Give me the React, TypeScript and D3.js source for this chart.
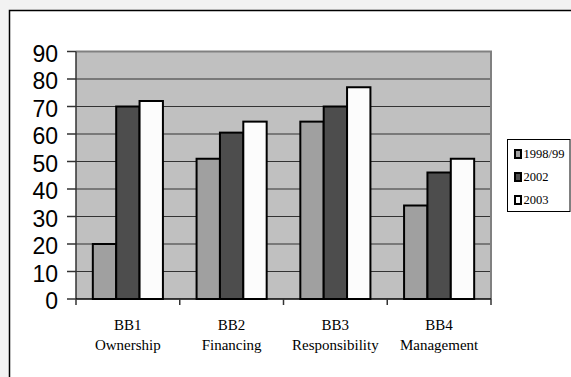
import React from "react";
import * as d3 from "d3";

const categories = ["BB1", "BB2", "BB3", "BB4"];
const subLabels = ["Ownership", "Financing", "Responsibility", "Management"];
const seriesNames = ["1998/99", "2002", "2003"];
const s1998 = [20, 51, 64.5, 34];
const s2002 = [70, 60.5, 70, 46];
const s2003 = [72, 64.5, 77, 51];
const yTicks = [0, 10, 20, 30, 40, 50, 60, 70, 80, 90];
const seriesColors = ["#a0a0a0", "#4d4d4d", "#fcfcfc"];

export default function App() {
  const W = 571, H = 377;
  const left = 76, right = 491, top = 51.5, bottom = 299;
  const series = [s1998, s2002, s2003];

  const x = d3.scaleBand<string>().domain(categories).range([left, right]).padding(0);
  const inner = d3.scaleBand<number>().domain([0, 1, 2]).range([0, x.bandwidth()]).paddingInner(0).paddingOuter(0.72);
  const y = d3.scaleLinear().domain([0, 90]).range([bottom, top]);
  const serif = "'Liberation Serif', 'Times New Roman', serif";

  return (
    <svg width={W} height={H} style={{ position: "absolute", left: 0, top: 0 }}>
      <rect x={0} y={0} width={W} height={H} fill="#f2f2f2" />
      <rect x={9.5} y={10.5} width={W + 20} height={H + 20} fill="#ffffff" stroke="#000" strokeWidth={1.5} />
      <rect x={left} y={top} width={right - left} height={bottom - top} fill="#c0c0c0" />
      {yTicks.filter(t => t > 0 && t < 90).map(t => (
        <line key={t} x1={left} x2={right} y1={y(t)} y2={y(t)} stroke="#333" strokeWidth={1} />
      ))}
      <path d={`M${left},${top} H${right} V${bottom}`} fill="none" stroke="#808080" strokeWidth={2} />
      {series.map((vals, si) =>
        vals.map((v, ci) => (
          <rect
            key={`${si}-${ci}`}
            x={(x(categories[ci]) as number) + (inner(si) as number)}
            y={y(v)}
            width={inner.bandwidth()}
            height={bottom - y(v)}
            fill={seriesColors[si]}
            stroke="#000"
            strokeWidth={2}
          />
        ))
      )}
      <line x1={left} x2={left} y1={top} y2={bottom} stroke="#333" strokeWidth={1.5} />
      {yTicks.map(t => (
        <g key={t}>
          <line x1={left - 9} x2={left} y1={y(t)} y2={y(t)} stroke="#333" strokeWidth={1.5} />
          <text x={58} y={y(t) + 2} textAnchor="end" dominantBaseline="central"
            fontFamily="'Liberation Sans', Arial, sans-serif" fontSize={23} fill="#000">{t}</text>
        </g>
      ))}
      <line x1={left} x2={right} y1={bottom} y2={bottom} stroke="#000" strokeWidth={1.5} />
      {[...categories.map(c => x(c) as number), right].map((p, i) => (
        <line key={i} x1={p} x2={p} y1={bottom} y2={bottom + 6} stroke="#333" strokeWidth={1.5} />
      ))}
      {categories.map((c, i) => {
        const cx = (x(c) as number) + x.bandwidth() / 2;
        return (
          <g key={c} fontFamily={serif} fontSize={15} fill="#000">
            <text x={cx} y={330} textAnchor="middle">{c}</text>
            <text x={cx} y={350} textAnchor="middle">{subLabels[i]}</text>
          </g>
        );
      })}
      <rect x={507.5} y={139.5} width={62.5} height={72} fill="#fff" stroke="#000" strokeWidth={1} />
      {seriesNames.map((n, i) => {
        const cy = 154 + i * 23;
        return (
          <g key={n}>
            <rect x={515} y={cy - 4} width={6} height={8} fill={seriesColors[i]} stroke="#000" strokeWidth={2} />
            <text x={523.5} y={cy} dominantBaseline="central"
              fontFamily={serif} fontSize={12.5} fill="#000">{n}</text>
          </g>
        );
      })}
    </svg>
  );
}
